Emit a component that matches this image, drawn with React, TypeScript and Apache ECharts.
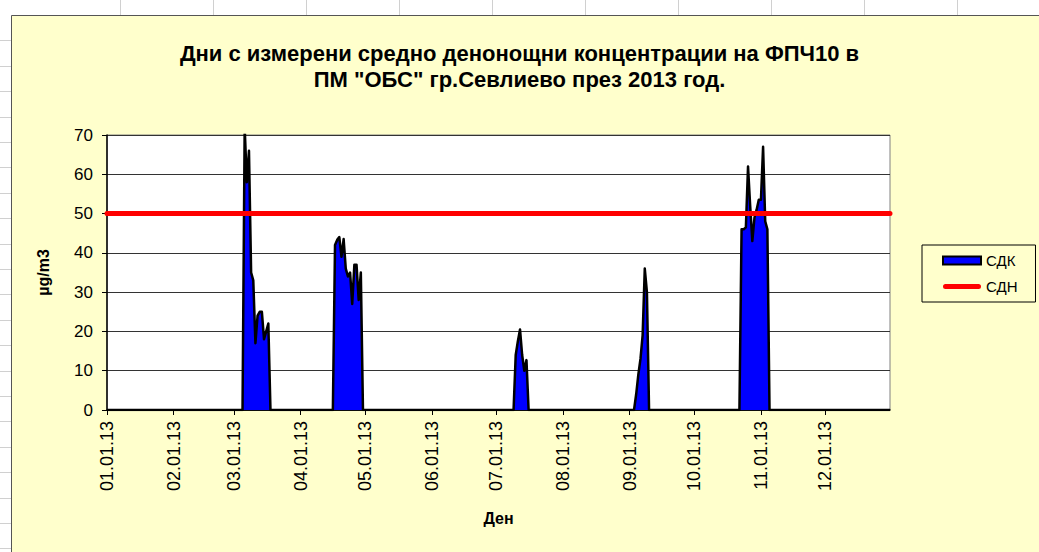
import React, { useEffect, useRef } from "react";
import * as echarts from "echarts";

// ---- data ----
const titleText = "Дни с измерени средно денонощни концентрации на ФПЧ10 в\nПМ \"ОБС\" гр.Севлиево през 2013 год.";
const monthStartDays = [0, 31, 59, 90, 120, 151, 181, 212, 243, 273, 304, 334];
const monthLabels = [
  "01.01.13", "02.01.13", "03.01.13", "04.01.13", "05.01.13", "06.01.13",
  "07.01.13", "08.01.13", "09.01.13", "10.01.13", "11.01.13", "12.01.13",
];
const dayCount = 365;
const yMin = 0;
const yMax = 70;
const yStep = 10;
const sdnLimit = 50;

// measured periods (day index of first value, daily values in µg/m3)
const marchStart = 64;
const marchValues = [72, 58, 66, 35, 33, 17, 24, 25, 25, 18, 20, 22];
const aprilStart = 106;
const aprilValues = [42, 43.3, 44, 39, 43.5, 36, 34, 35, 27, 37, 37, 28, 35];
const julyStart = 190;
const julyValues = [14, 17.5, 20.5, 14, 10, 12.7];
const septStart = 246;
const septValues = [4, 9, 13, 19, 36, 30];
const octStart = 295;
const octValues = [46, 46, 46.5, 62, 52, 43, 49, 51, 53.5, 53.5, 67, 48, 46];

const periods: [number, number[]][] = [
  [marchStart, marchValues],
  [aprilStart, aprilValues],
  [julyStart, julyValues],
  [septStart, septValues],
  [octStart, octValues],
];

const pad = (n: number) => (n < 10 ? "0" + n : "" + n);
const days: string[] = Array.from({ length: dayCount }, (_, i) => {
  const d = new Date(2013, 0, 1 + i);
  return pad(d.getMonth() + 1) + "." + pad(d.getDate()) + ".13";
});

const sdkSeries: number[] = days.map(() => 0);
periods.forEach(([start, vals]) => {
  vals.forEach((v, k) => {
    sdkSeries[start + k] = v;
  });
});
const sdnSeries: number[] = days.map(() => sdnLimit);

const FONT = "'Liberation Sans', Arial, sans-serif";

export default function App() {
  const ref = useRef<HTMLDivElement>(null);
  useEffect(() => {
    document.body.style.margin = "0";
    if (!ref.current) return;
    const chart = echarts.init(ref.current, undefined, { renderer: "svg" });

    const graphics: any[] = [];
    // spreadsheet header strip and left strip
    graphics.push({ type: "rect", shape: { x: 0, y: 0, width: 1039, height: 15 }, style: { fill: "#ffffff" }, silent: true });
    graphics.push({ type: "rect", shape: { x: 0, y: 0, width: 12, height: 552 }, style: { fill: "#ffffff" }, silent: true });
    for (let x = 120; x < 1039; x += 93) {
      graphics.push({ type: "line", shape: { x1: x + 0.5, y1: 0, x2: x + 0.5, y2: 15 }, style: { stroke: "#d0d0d0", lineWidth: 1 }, silent: true });
    }
    for (let y = 15 + 25.4; y < 552; y += 25.4) {
      graphics.push({ type: "line", shape: { x1: 0, y1: Math.round(y) + 0.5, x2: 11, y2: Math.round(y) + 0.5 }, style: { stroke: "#d0d0d0", lineWidth: 1 }, silent: true });
    }
    graphics.push({ type: "line", shape: { x1: 11.5, y1: 15.5, x2: 1039, y2: 15.5 }, style: { stroke: "#555555", lineWidth: 1 }, silent: true });
    graphics.push({ type: "line", shape: { x1: 11.5, y1: 15.5, x2: 11.5, y2: 552 }, style: { stroke: "#555555", lineWidth: 1 }, silent: true });

    const isMonthStart = (index: number) => monthStartDays.indexOf(index) >= 0;

    chart.setOption({
      animation: false,
      backgroundColor: "#FFFFCC",
      textStyle: { fontFamily: FONT },
      title: {
        text: titleText,
        left: "center",
        top: 35,
        textStyle: { fontSize: 22, fontWeight: "bold", color: "#000", lineHeight: 26, fontFamily: FONT },
      },
      graphic: graphics,
      grid: {
        left: 107,
        right: 149,
        top: 135,
        bottom: 142,
        show: true,
        backgroundColor: "#ffffff",
        borderColor: "#808080",
        borderWidth: 1,
      },
      legend: {
        orient: "vertical",
        left: 922,
        top: 245,
        padding: [8, 18, 8, 20],
        itemGap: 11,
        itemWidth: 38,
        itemHeight: 8,
        borderColor: "#000",
        borderWidth: 1,
        textStyle: { fontSize: 15, color: "#000", fontFamily: FONT },
        data: [
          { name: "СДК", icon: "rect", itemStyle: { color: "#0000FF", borderColor: "#000", borderWidth: 2 } },
          {
            name: "СДН",
            icon: "path://M2.5,0 L35.5,0 A2.5,2.5 0 0 1 35.5,5 L2.5,5 A2.5,2.5 0 0 1 2.5,0 Z",
            itemStyle: { color: "#FF0000", borderWidth: 0 },
          },
        ],
      },
      xAxis: {
        type: "category",
        data: days,
        boundaryGap: false,
        name: "Ден",
        nameLocation: "middle",
        nameGap: 100,
        nameTextStyle: { fontSize: 16, fontWeight: "bold", color: "#000", fontFamily: FONT },
        axisLine: { lineStyle: { color: "#000", width: 1.5 } },
        axisTick: { show: true, interval: (i: number) => isMonthStart(i), length: 5, lineStyle: { color: "#000" } },
        axisLabel: {
          interval: (i: number) => isMonthStart(i),
          rotate: 90,
          margin: 11,
          fontSize: 18,
          color: "#000",
          fontFamily: FONT,
          formatter: (_v: string, i: number) => monthLabels[monthStartDays.indexOf(i)] ?? "",
        },
        splitLine: { show: false },
      },
      yAxis: {
        type: "value",
        min: yMin,
        max: yMax,
        interval: yStep,
        name: "µg/m3",
        nameLocation: "middle",
        nameGap: 56,
        nameRotate: 90,
        nameTextStyle: { fontSize: 16, fontWeight: "bold", color: "#000", fontFamily: FONT },
        axisLine: { show: true, lineStyle: { color: "#000", width: 1.5 } },
        axisTick: { show: true, length: 5, lineStyle: { color: "#000" } },
        axisLabel: { fontSize: 17, color: "#000", margin: 14, fontFamily: FONT },
        splitLine: { show: true, lineStyle: { color: "#333333", width: 1 } },
      },
      series: [
        {
          name: "СДК",
          type: "line",
          data: sdkSeries,
          symbol: "none",
          clip: true,
          lineStyle: { color: "#000", width: 2.5, join: "round" },
          areaStyle: { color: "#0000FF", opacity: 1 },
          itemStyle: { color: "#0000FF" },
          z: 2,
        },
        {
          name: "СДН",
          type: "line",
          data: sdnSeries,
          symbol: "none",
          lineStyle: { color: "#FF0000", width: 5, cap: "round" },
          itemStyle: { color: "#FF0000" },
          z: 3,
        },
      ],
    });
    return () => chart.dispose();
  }, []);
  return <div ref={ref} style={{ width: 1039, height: 552 }} />;
}
